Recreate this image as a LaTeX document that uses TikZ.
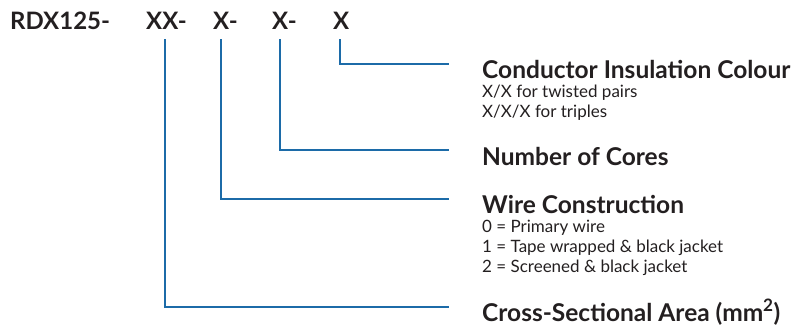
\documentclass[tikz,border=0pt]{standalone}
\usepackage{fontspec}
\setmainfont{Lato}
\usetikzlibrary{positioning}
\definecolor{leadblue}{HTML}{1C6BA8}
\definecolor{inkdark}{HTML}{231F20}
\tikzset{
  pc/.style={inner sep=0pt, anchor=base west, text=inkdark},
  pc code/.style={pc, font=\fontsize{24}{28}\selectfont\bfseries},
  pc head/.style={pc, font=\fontsize{24.5}{28}\selectfont\bfseries},
  pc sub/.style={pc, anchor=north west, align=left, font=\fontsize{17}{20}\selectfont},
  pc lead/.style={leadblue, line width=2pt},
}
\begin{document}
\begin{tikzpicture}[x=1pt, y=-1pt]
  \useasboundingbox (0,0) rectangle (803,327);
  % the part code
  \node[pc code] (rdx) at (10,29) {RDX125-};
  \node[pc code] (cxx) at (146,29) {XX-};
  \node[pc code] (cwc) at (213,29) {X-};
  \node[pc code] (cnc) at (272,29) {X-};
  \node[pc code] (cic) at (333,29) {X};
  % what each field means
  \node[pc head] (hic) at (482,78) {Conductor Insulation Colour};
  \node[pc sub] (sic) at ([yshift=-7pt]hic.base west) {X/X for twisted pairs\\X/X/X for triples};
  \node[pc head] (hnc) at (482,165) {Number of Cores};
  \node[pc head] (hwc) at (482,213) {Wire Construction};
  \node[pc sub] (swc) at ([yshift=-7pt]hwc.base west) {0 = Primary wire\\1 = Tape wrapped \& black jacket\\2 = Screened \& black jacket};
  \node[pc head] (hxx) at (482,321) {Cross-Sectional Area (mm\textsuperscript{2})};
  % leads from the code to the headings
  \foreach \c/\x/\y in {ic/340/64, nc/280/150, wc/221/199, xx/165/307} {
    \coordinate (t\c) at (\x,39);
    \coordinate (e\c) at (449,\y);
    \draw[pc lead] (t\c) |- (e\c);
  }
\end{tikzpicture}
\end{document}
